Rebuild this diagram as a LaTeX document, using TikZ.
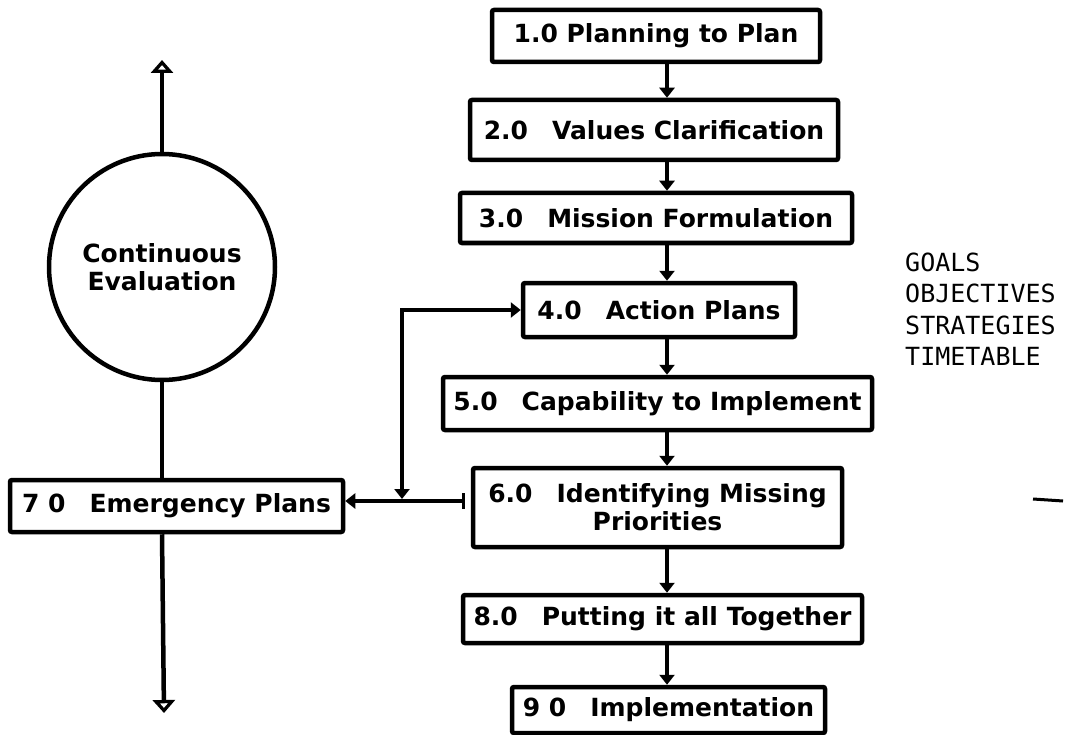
\documentclass[tikz,border=0pt]{standalone}
\usepackage{fontspec}
\setmainfont{DejaVu Sans}
\newfontfamily\monofont{DejaVu Sans Mono}
\usetikzlibrary{arrows.meta}
\newcommand\gapnum{\hspace{24pt}}
\begin{document}
\begin{tikzpicture}[x=1pt,y=-1pt,
  box/.style={draw, line width=4.5pt, rounded corners=2pt, inner sep=0pt,
    font=\bfseries\fontsize{25}{28}\selectfont, align=center},
  flow/.style={line width=4.5pt, -{Triangle[width=15pt,length=10pt]}},
  plain/.style={line width=4.5pt},
  opentip/.style={-{Triangle[open,width=22pt,length=13pt,line width=4pt]}},
  goal/.style={font=\monofont\fontsize{25}{30}\selectfont, inner sep=0pt, anchor=base west}]
\useasboundingbox (0,0) rectangle (1067,735);
% flow boxes
\node[box, minimum width=328, minimum height=52] (b1) at (656,36) {1.0 Planning to Plan};
\node[box, minimum width=368, minimum height=60] (b2) at (654,130) {2.0\gapnum Values Clarification};
\node[box, minimum width=392, minimum height=50] (b3) at (656,218) {3.0\gapnum Mission Formulation};
\node[box, minimum width=272, minimum height=54] (b4) at (659,310) {4.0\gapnum Action Plans};
\node[box, minimum width=429, minimum height=53] (b5) at (657.5,403.5) {5.0\gapnum Capability to Implement};
\node[box, minimum width=369, minimum height=79] (b6) at (657.5,507.5) {6.0\gapnum Identifying Missing\\Priorities};
\node[box, minimum width=399, minimum height=48] (b8) at (662.5,619) {8.0\gapnum Putting it all Together};
\node[box, minimum width=313, minimum height=46] (b9) at (668.5,710) {9 0\gapnum Implementation};
\node[box, minimum width=333, minimum height=52] (b7) at (176.5,506) {7 0\gapnum Emergency Plans};
% circle
\node[circle, draw, line width=4.5pt, minimum size=226, inner sep=0pt,
  font=\bfseries\fontsize{25}{28}\selectfont, align=center] (circ) at (162,267) {Continuous\\Evaluation};
% flow arrows
\coordinate (ax) at (667,0);
\draw[flow] (b1.south -| ax) -- (b2.north -| ax);
\draw[flow] (b2.south -| ax) -- (b3.north -| ax);
\draw[flow] (b3.south -| ax) -- (b4.north -| ax);
\draw[flow] (b4.south -| ax) -- (b5.north -| ax);
\draw[flow] (b5.south -| ax) -- (b6.north -| ax);
\draw[flow] (b6.south -| ax) -- (b8.north -| ax);
\draw[flow] (b8.south -| ax) -- (b9.north -| ax);
% evaluation axis
\coordinate (topend) at (162,60);
\coordinate (botend) at (164,713);
\draw[plain, opentip] (circ.north) -- (topend);
\draw[plain] (circ.south) -- (circ.south |- b7.north);
\draw[plain, opentip] (b7.south -| circ.south) -- (botend);
% feedback
\coordinate (fy) at (402,501);
\draw[plain, {Bar[width=16pt,line width=3pt]}-{Triangle[width=15pt,length=10pt]}, shorten <=6pt]
  (b6.west |- fy) -- (b7.east |- fy);
\draw[plain, {Triangle[width=15pt,length=10pt]}-{Triangle[width=15pt,length=10pt]}, shorten >=2pt]
  (b4.west) -| (fy);
% side list
\node[goal] (g1) at (905,271) {GOALS};
\node[goal] (g2) at (905,302) {OBJECTIVES};
\node[goal] (g3) at (905,334) {STRATEGIES};
\node[goal] (g4) at (905,365) {TIMETABLE};
% stray mark at right
\draw[line width=3pt] (1033,499) -- (1063,501);
\end{tikzpicture}
\end{document}
